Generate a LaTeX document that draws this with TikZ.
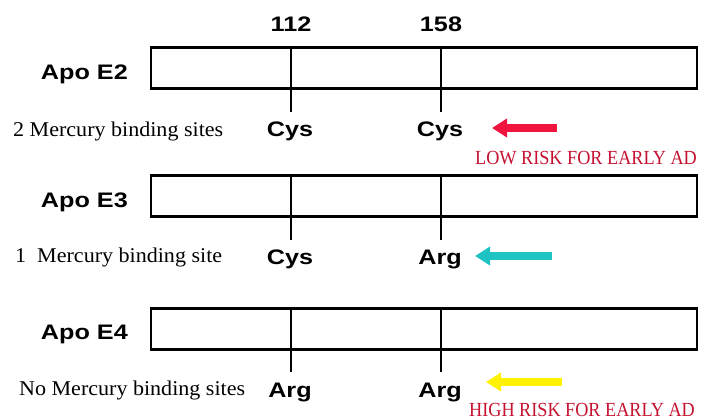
\documentclass[tikz,border=0pt]{standalone}
\usepackage{fontspec}
\setmainfont{Liberation Serif}
\setsansfont{Liberation Sans}[FakeStretch=1.2]
\newfontfamily\wideserif{Liberation Serif}[FakeStretch=1.05]
\newfontfamily\narrowserif{Liberation Serif}[FakeStretch=0.91]
\usetikzlibrary{positioning,arrows.meta}
\definecolor{riskred}{RGB}{196,18,48}
\definecolor{lowarrow}{RGB}{240,20,62}
\definecolor{midarrow}{RGB}{30,196,196}
\definecolor{higharrow}{RGB}{255,242,0}
\begin{document}
\begin{tikzpicture}[x=1pt,y=-1pt,
        bar/.style={draw,line width=2.5pt,minimum width=546pt,minimum height=41pt,inner sep=0pt,outer sep=0pt,anchor=north west},
        tick/.style={line width=2.5pt},
        lbl/.style={inner sep=0pt,font=\sffamily\bfseries\fontsize{21}{25}\selectfont},
        site/.style={inner sep=0pt,anchor=base west,font=\wideserif\fontsize{21}{25}\selectfont},
        risk/.style={inner sep=0pt,anchor=base west,text=riskred,font=\narrowserif\fontsize{20}{24}\selectfont},
        fat/.style={line width=8pt,-{Triangle[length=15pt,width=18pt]}}]
        \useasboundingbox (0,0) rectangle (701,419);
        %% Bars
        \node[bar] (bar2) at (151,47.5) {};
        \node[bar] (bar3) at (151,175.5) {};
        \node[bar] (bar4) at (151,308.5) {};
        %% Isoform names
        \node[lbl,anchor=base east] (apo2) at (128,80) {Apo E2};
        \node[lbl,anchor=base east] (apo3) at (128,208) {Apo E3};
        \node[lbl,anchor=base east] (apo4) at (128,340) {Apo E4};
        %% Residue positions
        \node[lbl,anchor=base] (n112) at (291,32) {112};
        \node[lbl,anchor=base] (n158) at (441,32) {158};
        %% Residues and ticks
        \foreach \b/\y/\r/\s in {2/137/Cys/Cys, 3/265/Cys/Arg, 4/397/Arg/Arg} {
            \node[lbl,anchor=base] (a\b) at (290,\y) {\r};
            \node[lbl,anchor=base] (b\b) at (440,\y) {\s};
            \draw[tick] (n112 |- bar\b.north) -- ([yshift=10pt]n112 |- a\b.north);
            \draw[tick] (n158 |- bar\b.north) -- ([yshift=10pt]n158 |- b\b.north);
        }
        %% Binding sites
        \node[site] (s2) at (13,137) {2 Mercury binding sites};
        \node[site] (s3) at (15,263) {1\ \ Mercury binding site};
        \node[site] (s4) at (19,395) {No Mercury binding sites};
        %% Risk arrows
        \coordinate (lowtail) at (557,128);
        \coordinate (lowtip) at (492,128);
        \coordinate (midtail) at (552,256);
        \coordinate (midtip) at (475,256);
        \coordinate (hightail) at (562,382);
        \coordinate (hightip) at (486,382);
        \draw[fat,lowarrow] (lowtail) -- (lowtip);
        \draw[fat,midarrow] (midtail) -- (midtip);
        \draw[fat,higharrow] (hightail) -- (hightip);
        \node[risk] (low) at (475,165) {LOW RISK FOR EARLY AD};
        \node[risk] (high) at (469,416) {HIGH RISK FOR EARLY AD};
\end{tikzpicture}
\end{document}
